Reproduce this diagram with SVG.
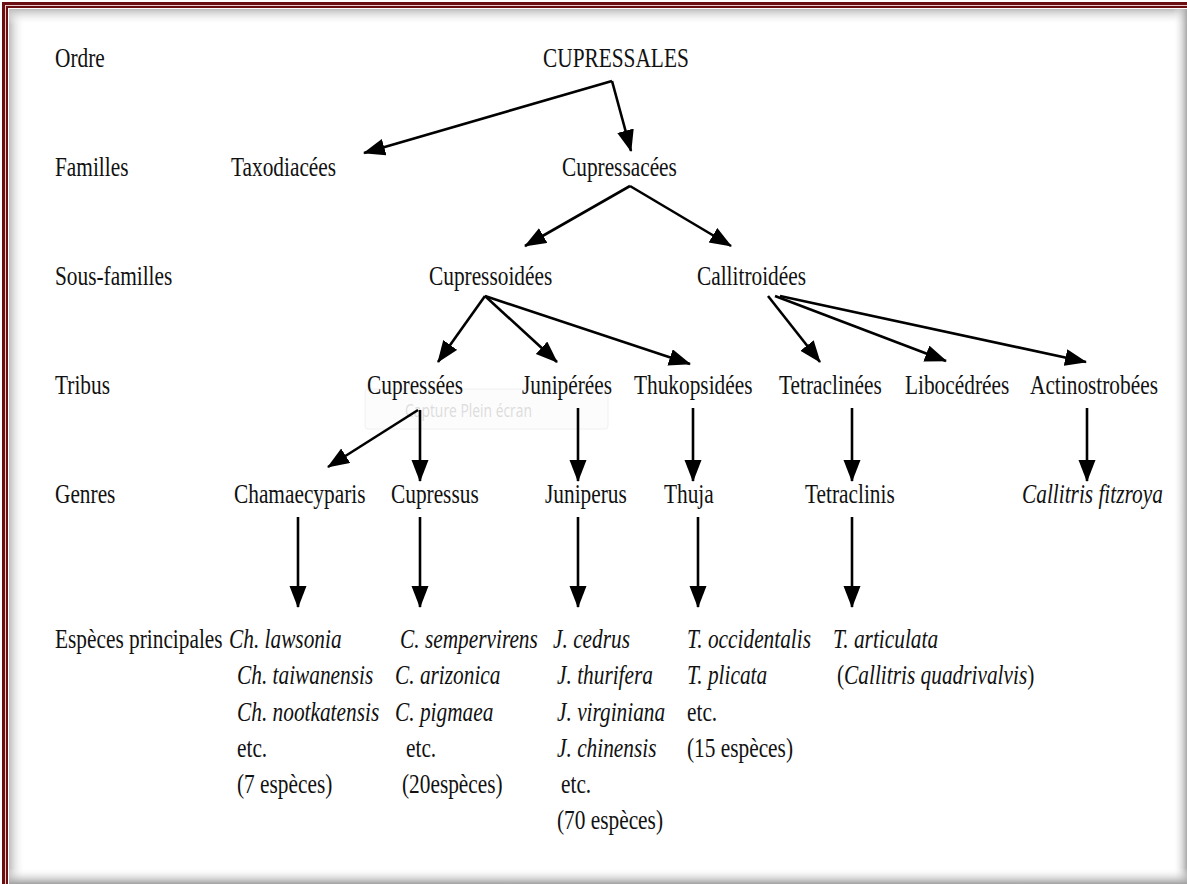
<svg xmlns="http://www.w3.org/2000/svg" width="1187" height="884" viewBox="0 0 1187 884">
<style>
.t{font-family:"Liberation Serif","Times New Roman",serif;font-size:27px;fill:#111}
.i{font-style:italic}
.c line{stroke:#000;stroke-width:2.6;marker-end:url(#ah)}
</style>
<defs>
<marker id="ah" markerUnits="userSpaceOnUse" markerWidth="22" markerHeight="18" refX="21" refY="8.5" orient="auto">
<path d="M0,0 L22,8.5 L0,17 z" fill="#000"/>
</marker>
<linearGradient id="gl" x1="0" y1="0" x2="1" y2="0"><stop offset="0" stop-color="#bdbdbd"/><stop offset="1" stop-color="#fff" stop-opacity="0"/></linearGradient>
<linearGradient id="gt" x1="0" y1="0" x2="0" y2="1"><stop offset="0" stop-color="#bdbdbd"/><stop offset="1" stop-color="#fff" stop-opacity="0"/></linearGradient>
<linearGradient id="gr" x1="0" y1="0" x2="1" y2="0"><stop offset="0" stop-color="#fff" stop-opacity="0"/><stop offset="1" stop-color="#a8a8a8"/></linearGradient>
<linearGradient id="gb" x1="0" y1="0" x2="0" y2="1"><stop offset="0" stop-color="#fff" stop-opacity="0"/><stop offset="1" stop-color="#a0a0a0"/></linearGradient>
</defs>
<rect width="1187" height="884" fill="#fff"/>
<g id="frame">
<rect x="9" y="9" width="16" height="875" fill="url(#gl)"/>
<rect x="9" y="9" width="1178" height="16" fill="url(#gt)"/>
<rect x="1173" y="9" width="14" height="875" fill="url(#gr)"/>
<rect x="9" y="868" width="1178" height="16" fill="url(#gb)"/>
<path d="M3.5,900 V3.5 H1200" fill="none" stroke="#6a0e12" stroke-width="3"/>
<path d="M5.5,900 V5.5 H1200" fill="none" stroke="#e8c8c8" stroke-width="1"/>
<path d="M7,900 V7 H1200" fill="none" stroke="#6a0e12" stroke-width="2"/>
</g>
<g id="capture-overlay">
<rect x="365" y="389" width="243" height="40" rx="3" fill="#fcfcfc" stroke="#f0f0f0" stroke-width="1"/>
<text x="405" y="417" font-family="'Open Sans','Noto Sans',sans-serif" font-size="18" fill="#dcdcdc" textLength="127" lengthAdjust="spacingAndGlyphs">Capture Plein écran</text>
</g>
<g id="labels">
<text class="t" transform="translate(55,67) scale(0.79,1)">Ordre</text>
<text class="t" transform="translate(55,176) scale(0.79,1)">Familles</text>
<text class="t" transform="translate(55,285) scale(0.79,1)">Sous-familles</text>
<text class="t" transform="translate(55,394) scale(0.79,1)">Tribus</text>
<text class="t" transform="translate(55,503) scale(0.79,1)">Genres</text>
<text class="t" transform="translate(55,648) scale(0.79,1)">Espèces principales</text>
</g>
<g id="n-cupressales"><text class="t" transform="translate(543,67) scale(0.79,1)">CUPRESSALES</text></g>
<g id="n-taxodiacees"><text class="t" transform="translate(231,176) scale(0.79,1)">Taxodiacées</text></g>
<g id="n-cupressacees"><text class="t" transform="translate(562,176) scale(0.79,1)">Cupressacées</text></g>
<g id="n-cupressoidees"><text class="t" transform="translate(429,285) scale(0.79,1)">Cupressoidées</text></g>
<g id="n-callitroidees"><text class="t" transform="translate(697,285) scale(0.79,1)">Callitroidées</text></g>
<g id="n-cupressees"><text class="t" transform="translate(367,394) scale(0.79,1)">Cupressées</text></g>
<g id="n-juniperees"><text class="t" transform="translate(522,394) scale(0.79,1)">Junipérées</text></g>
<g id="n-thukopsidees"><text class="t" transform="translate(634,394) scale(0.79,1)">Thukopsidées</text></g>
<g id="n-tetraclinees"><text class="t" transform="translate(779,394) scale(0.79,1)">Tetraclinées</text></g>
<g id="n-libocedrees"><text class="t" transform="translate(905,394) scale(0.79,1)">Libocédrées</text></g>
<g id="n-actinostrobees"><text class="t" transform="translate(1030,394) scale(0.79,1)">Actinostrobées</text></g>
<g id="n-chamaecyparis"><text class="t" transform="translate(234,503) scale(0.79,1)">Chamaecyparis</text></g>
<g id="n-cupressus"><text class="t" transform="translate(391,503) scale(0.79,1)">Cupressus</text></g>
<g id="n-juniperus"><text class="t" transform="translate(545,503) scale(0.79,1)">Juniperus</text></g>
<g id="n-thuja"><text class="t" transform="translate(664,503) scale(0.79,1)">Thuja</text></g>
<g id="n-tetraclinis"><text class="t" transform="translate(805,503) scale(0.79,1)">Tetraclinis</text></g>
<g id="n-callitris"><text class="t i" transform="translate(1022,503) scale(0.79,1)">Callitris fitzroya</text></g>
<g id="sp-chamaecyparis">
<text class="t i" transform="translate(229,648) scale(0.79,1)">Ch. lawsonia</text>
<text class="t i" transform="translate(237,684) scale(0.79,1)">Ch. taiwanensis</text>
<text class="t i" transform="translate(237,721) scale(0.79,1)">Ch. nootkatensis</text>
<text class="t" transform="translate(237,757) scale(0.79,1)">etc.</text>
<text class="t" transform="translate(237,793) scale(0.79,1)">(7 espèces)</text>
</g>
<g id="sp-cupressus">
<text class="t i" transform="translate(400,648) scale(0.79,1)">C. sempervirens</text>
<text class="t i" transform="translate(395,684) scale(0.79,1)">C. arizonica</text>
<text class="t i" transform="translate(395,721) scale(0.79,1)">C. pigmaea</text>
<text class="t" transform="translate(406,757) scale(0.79,1)">etc.</text>
<text class="t" transform="translate(402,793) scale(0.79,1)">(20espèces)</text>
</g>
<g id="sp-juniperus">
<text class="t i" transform="translate(553,648) scale(0.79,1)">J. cedrus</text>
<text class="t i" transform="translate(557,684) scale(0.79,1)">J. thurifera</text>
<text class="t i" transform="translate(557,721) scale(0.79,1)">J. virginiana</text>
<text class="t i" transform="translate(557,757) scale(0.79,1)">J. chinensis</text>
<text class="t" transform="translate(561,793) scale(0.79,1)">etc.</text>
<text class="t" transform="translate(557,829) scale(0.79,1)">(70 espèces)</text>
</g>
<g id="sp-thuja">
<text class="t i" transform="translate(687,648) scale(0.79,1)">T. occidentalis</text>
<text class="t i" transform="translate(687,684) scale(0.79,1)">T. plicata</text>
<text class="t" transform="translate(687,721) scale(0.79,1)">etc.</text>
<text class="t" transform="translate(687,757) scale(0.79,1)">(15 espèces)</text>
</g>
<g id="sp-tetraclinis">
<text class="t i" transform="translate(833,648) scale(0.79,1)">T. articulata</text>
<text class="t" transform="translate(837,684) scale(0.79,1)">(<tspan class="i">Callitris quadrivalvis</tspan>)</text>
</g>
<g id="connectors" class="c">
<line x1="612" y1="81" x2="364" y2="153"/>
<line x1="612" y1="81" x2="631" y2="151"/>
<line x1="630" y1="186" x2="525" y2="246"/>
<line x1="630" y1="186" x2="731" y2="246"/>
<line x1="485" y1="296" x2="438" y2="362"/>
<line x1="485" y1="296" x2="557" y2="362"/>
<line x1="485" y1="296" x2="690" y2="364"/>
<line x1="768" y1="296" x2="820" y2="362"/>
<line x1="775" y1="296" x2="946" y2="361"/>
<line x1="780" y1="296" x2="1086" y2="362"/>
<line x1="418" y1="410" x2="328" y2="467"/>
<line x1="420" y1="410" x2="420" y2="481"/>
<line x1="578" y1="408" x2="578" y2="481"/>
<line x1="693" y1="408" x2="693" y2="481"/>
<line x1="852" y1="408" x2="852" y2="481"/>
<line x1="1087" y1="408" x2="1087" y2="481"/>
<line x1="298" y1="517" x2="298" y2="607"/>
<line x1="420" y1="517" x2="420" y2="607"/>
<line x1="578" y1="517" x2="578" y2="607"/>
<line x1="698" y1="517" x2="698" y2="607"/>
<line x1="852" y1="517" x2="852" y2="607"/>
</g>
</svg>
